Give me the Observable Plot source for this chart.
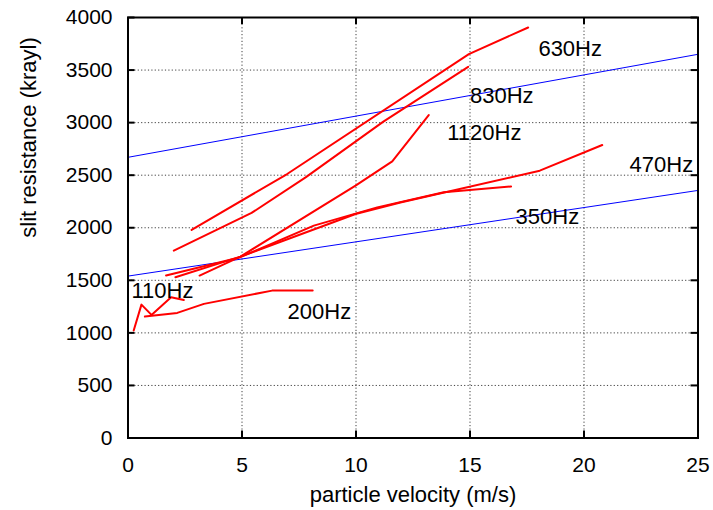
<!DOCTYPE html>
<html><head><meta charset="utf-8">
<script src="https://cdn.jsdelivr.net/npm/d3@7"></script>
<script src="https://cdn.jsdelivr.net/npm/@observablehq/plot@0.6"></script>
<style>body{margin:0;background:#fff}</style>
</head><body><div id="chart"></div>
<script>
const xTicks = [0, 5, 10, 15, 20, 25];
const yTicks = [0, 500, 1000, 1500, 2000, 2500, 3000, 3500, 4000];

// measured curves [velocity m/s, resistance krayl]
const f110  = [[0.25,1022],[0.59,1269],[1.03,1171],[1.89,1338],[2.45,1313]];
const f200  = [[0.74,1155],[2.16,1190],[3.33,1276],[6.32,1402],[8.1,1402]];
const f350  = [[1.67,1545],[4.93,1720],[8.15,2020],[10.93,2194],[13.85,2337],[16.8,2393]];
const f470  = [[2.08,1529],[4.93,1725],[9.98,2131],[11.95,2241],[18.06,2543],[20.8,2787]];
const f630  = [[2.79,1979],[6.98,2511],[14.95,3652],[17.55,3905]];
const f830  = [[2.01,1782],[5.42,2141],[7.79,2479],[11.2,3010],[14.92,3531]];
const f1120 = [[3.14,1545],[4.93,1725],[9.98,2400],[11.59,2631],[13.19,3072]];

// straight reference lines
const fitHigh = [[0,2670],[25,3650]];
const fitLow  = [[0,1540],[25,2355]];

// curve labels
const labelText = ["630Hz","830Hz","1120Hz","470Hz","350Hz","110Hz","200Hz"];
const labelX    = [18, 15, 14, 22, 17, 0.15, 7];
const labelY    = [3700, 3250, 2900, 2600, 2100, 1400, 1200];

const redSeries = [f110, f200, f350, f470, f630, f830, f1120];
const blueSeries = [fitHigh, fitLow];
const labels = labelText.map((t, i) => ({t, x: labelX[i], y: labelY[i]}));

const W = 713, H = 510;
const mL = 127.5, mR = 15.5, mT = 17, mB = 72.5;
const innerW = W - mL - mR, innerH = H - mT - mB;
const font = "'Liberation Sans', Arial, sans-serif";
const fsTick = 21, fs = 22;

const innerX = xTicks.slice(1, -1);
const innerY = yTicks.slice(1, -1);

const marks = [
  Plot.ruleX(innerX, {x: d => d, stroke: "#000", strokeOpacity: 0.75, strokeDasharray: "1.2,2.2", strokeWidth: 1}),
  Plot.ruleY(innerY, {y: d => d, stroke: "#000", strokeOpacity: 0.75, strokeDasharray: "1.2,2.2", strokeWidth: 1}),
  // inward ticks, all four sides
  Plot.ruleX(xTicks, {x: d => d, insetTop: innerH - 7, stroke: "#000", strokeWidth: 2}),
  Plot.ruleX(xTicks, {x: d => d, insetBottom: innerH - 7, stroke: "#000", strokeWidth: 2}),
  Plot.ruleY(yTicks, {y: d => d, insetRight: innerW - 7, stroke: "#000", strokeWidth: 2}),
  Plot.ruleY(yTicks, {y: d => d, insetLeft: innerW - 7, stroke: "#000", strokeWidth: 2}),
  ...blueSeries.map(s => Plot.line(s, {x: d => d[0], y: d => d[1], stroke: "#0000ff", strokeWidth: 1})),
  ...redSeries.map(s => Plot.line(s, {x: d => d[0], y: d => d[1], stroke: "#ff0000", strokeWidth: 2, curve: "linear"})),
  Plot.text(labels, {x: "x", y: "y", text: "t", textAnchor: "start", lineAnchor: "middle", fontSize: fs, fill: "#000", fontFamily: font}),
  Plot.axisX(xTicks, {tickSize: 0, tickPadding: 19, fontSize: fsTick, fontFamily: font, label: null, color: "#000", tickFormat: d => String(d)}),
  Plot.axisY(yTicks, {tickSize: 0, tickPadding: 15.5, fontSize: fsTick, fontFamily: font, label: null, color: "#000", tickFormat: d => String(d)}),
  Plot.text(["particle velocity (m/s)"], {frameAnchor: "bottom", dy: 57, lineAnchor: "middle", fontSize: fs, fontFamily: font, fill: "#000"}),
  Plot.text(["slit resistance (krayl)"], {frameAnchor: "left", dx: -99, dy: 10, rotate: -90, lineAnchor: "middle", fontSize: fs, fontFamily: font, fill: "#000"}),
  Plot.frame({stroke: "#000", strokeWidth: 2})
];

const chart = Plot.plot({
  width: W, height: H,
  marginLeft: mL, marginRight: mR, marginTop: mT, marginBottom: mB,
  style: {background: "#fff", fontFamily: font, overflow: "visible"},
  x: {domain: [0, 25], axis: null},
  y: {domain: [0, 4000], axis: null},
  marks
});
document.getElementById("chart").appendChild(chart);
</script>
</body></html>
